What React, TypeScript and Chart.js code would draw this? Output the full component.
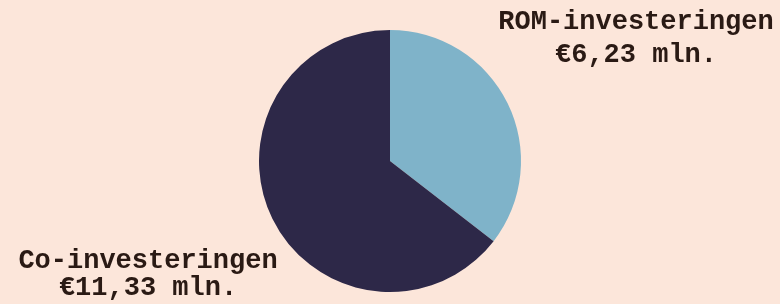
import React, { useEffect, useRef } from "react";
import { Chart, registerables } from "chart.js";

Chart.register(...registerables);

const categories = ["ROM-investeringen", "Co-investeringen"];
const values = [6.23, 11.33];
const valueLabels = ["€6,23 mln.", "€11,33 mln."];
const colors = ["#7fb3c9", "#2d2848"];

const BG = "#fce6da";
const TEXT = "#2a1a14";

const labelPlugin = {
  id: "pieLabels",
  afterDraw(chart: any) {
    const meta = chart.getDatasetMeta(0);
    const arc = meta.data[0];
    if (!arc) return;
    const { x: cx, y: cy } = arc.getProps(["x", "y"], true);
    const ctx = chart.ctx;
    ctx.save();
    ctx.fillStyle = TEXT;
    ctx.font = "bold 27px 'Liberation Mono', 'DejaVu Sans Mono', monospace";
    ctx.textAlign = "center";
    ctx.textBaseline = "alphabetic";
    // ROM label (top right)
    ctx.fillText(categories[0], cx + 246, cy - 132);
    ctx.fillText(valueLabels[0], cx + 246, cy - 99);
    // Co label (bottom left)
    ctx.fillText(categories[1], cx - 242, cy + 107);
    ctx.fillText(valueLabels[1], cx - 242, cy + 134);
    ctx.restore();
  },
};

export default function App() {
  const ref = useRef<HTMLCanvasElement>(null);
  useEffect(() => {
    if (!ref.current) return;
    const chart = new Chart(ref.current, {
      type: "pie",
      data: {
        labels: categories,
        datasets: [
          {
            data: values,
            backgroundColor: colors,
            borderWidth: 0,
          },
        ],
      },
      options: {
        responsive: false,
        animation: false,
        layout: { padding: { top: 30, bottom: 12, left: 0, right: 0 } },
        plugins: {
          legend: { display: false },
          tooltip: { enabled: false },
        },
      },
      plugins: [labelPlugin],
    });
    return () => chart.destroy();
  }, []);
  return (
    <div
      style={{
        position: "fixed",
        left: 0,
        top: 0,
        width: 780,
        height: 304,
        background: BG,
      }}
    >
      <canvas ref={ref} width={780} height={304} style={{ display: "block" }} />
    </div>
  );
}
